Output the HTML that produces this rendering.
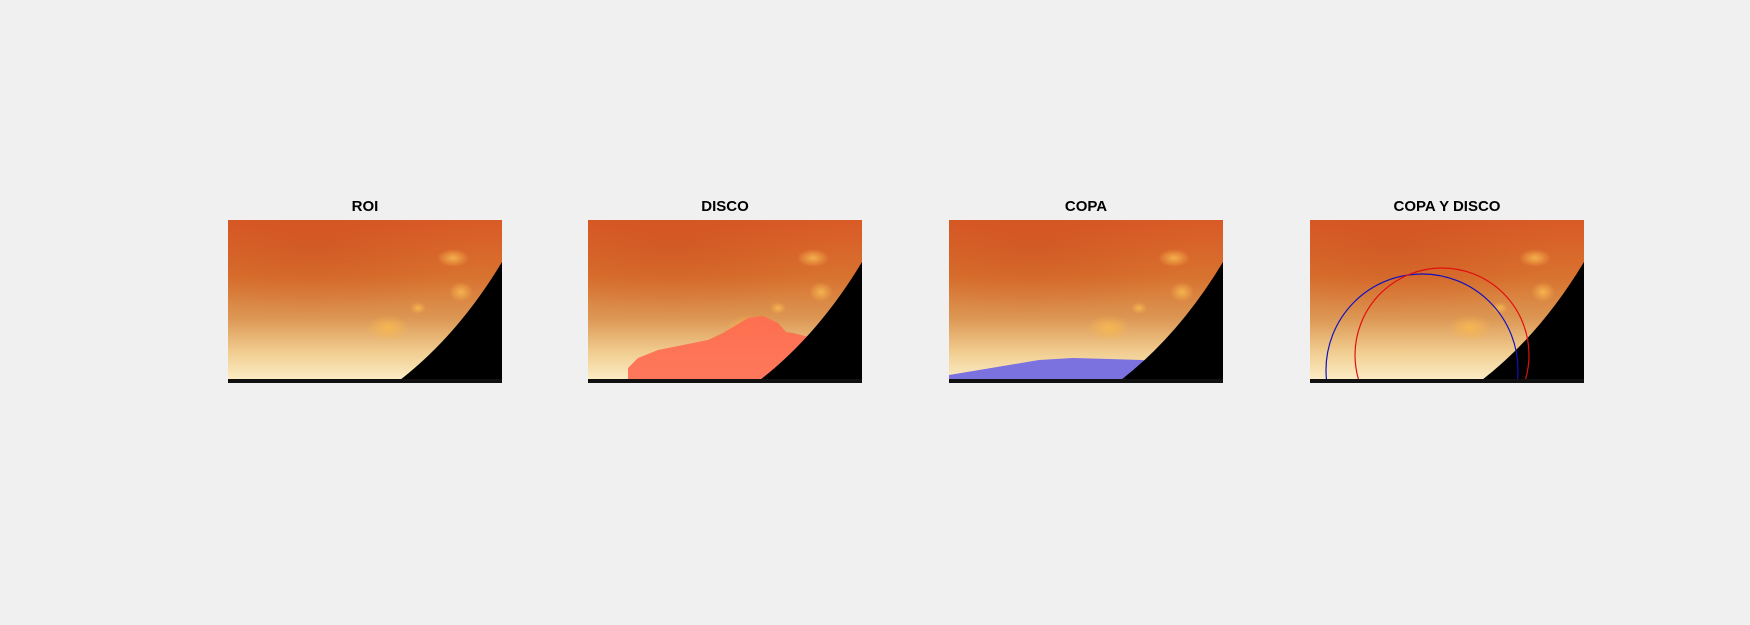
<!DOCTYPE html>
<html><head><meta charset="utf-8"><style>
html,body{margin:0;padding:0;background:#f0f0f0;}
body{width:1750px;height:625px;position:relative;overflow:hidden;font-family:"Liberation Sans",Arial,sans-serif;}
.t{position:absolute;top:198px;width:274px;text-align:center;font-weight:bold;font-size:15px;color:#000;}
svg.p{position:absolute;top:220px;width:274px;height:163px;}
</style></head><body>
<svg width="0" height="0" style="position:absolute">
<defs>
<linearGradient id="bg" x1="0" y1="0" x2="0" y2="1">
<stop offset="0" stop-color="#d95a26"/><stop offset="0.35" stop-color="#d8722f"/>
<stop offset="0.6" stop-color="#dc9653"/><stop offset="0.82" stop-color="#f1cf92"/>
<stop offset="1" stop-color="#fdf0cc"/></linearGradient>
<radialGradient id="sp" cx="0.5" cy="0.5" r="0.5"><stop offset="0" stop-color="#f8b850" stop-opacity="0.9"/><stop offset="1" stop-color="#f8b850" stop-opacity="0"/></radialGradient>
<radialGradient id="dk" cx="0.3" cy="0.2" r="0.6"><stop offset="0" stop-color="#c84a1c" stop-opacity="0.4"/><stop offset="1" stop-color="#c84a1c" stop-opacity="0"/></radialGradient>
<g id="fundus">
<rect width="274" height="163" fill="url(#bg)"/>
<rect width="274" height="120" fill="url(#dk)"/>
<ellipse cx="225" cy="38" rx="16" ry="9" fill="url(#sp)"/>
<ellipse cx="233" cy="72" rx="12" ry="10" fill="url(#sp)"/>
<ellipse cx="160" cy="108" rx="22" ry="13" fill="url(#sp)"/>
<ellipse cx="190" cy="88" rx="8" ry="6" fill="url(#sp)"/>
</g>
<g id="corner">
<path d="M274,42 Q230,115 172,160 L274,160 Z" fill="#000"/>
<rect y="159" width="274" height="4" fill="#111"/>
</g></defs></svg>

<div class="t" style="left:228px">ROI</div>
<svg class="p" style="left:228px" viewBox="0 0 274 163"><use href="#fundus"/><use href="#corner"/></svg>

<div class="t" style="left:588px">DISCO</div>
<svg class="p" style="left:588px" viewBox="0 0 274 163"><use href="#fundus"/>
<path d="M40,159 L40,148 L50,138 L70,130 L95,125 L120,120 L135,113 L150,104 L160,98 L175,96 L190,103 L198,112 L205,113 L213,115 L225,118 L225,159 Z" fill="#ff6a50" opacity="0.9"/>
<use href="#corner"/></svg>

<div class="t" style="left:949px">COPA</div>
<svg class="p" style="left:949px" viewBox="0 0 274 163"><use href="#fundus"/>
<path d="M0,159 L0,155 L30,150 L60,145 L90,140 L124,138 L160,139 L193,140 L210,142 L210,159 Z" fill="#7b72e0"/>
<use href="#corner"/></svg>

<div class="t" style="left:1310px">COPA Y DISCO</div>
<svg class="p" style="left:1310px" viewBox="0 0 274 163"><use href="#fundus"/><use href="#corner"/>
<clipPath id="cl"><rect width="274" height="159"/></clipPath>
<g clip-path="url(#cl)" fill="none" stroke-width="1.2">
<circle cx="112" cy="150" r="96" stroke="#1010c0"/>
<circle cx="132" cy="135" r="87" stroke="#e01010"/>
</g></svg>
</body></html>
